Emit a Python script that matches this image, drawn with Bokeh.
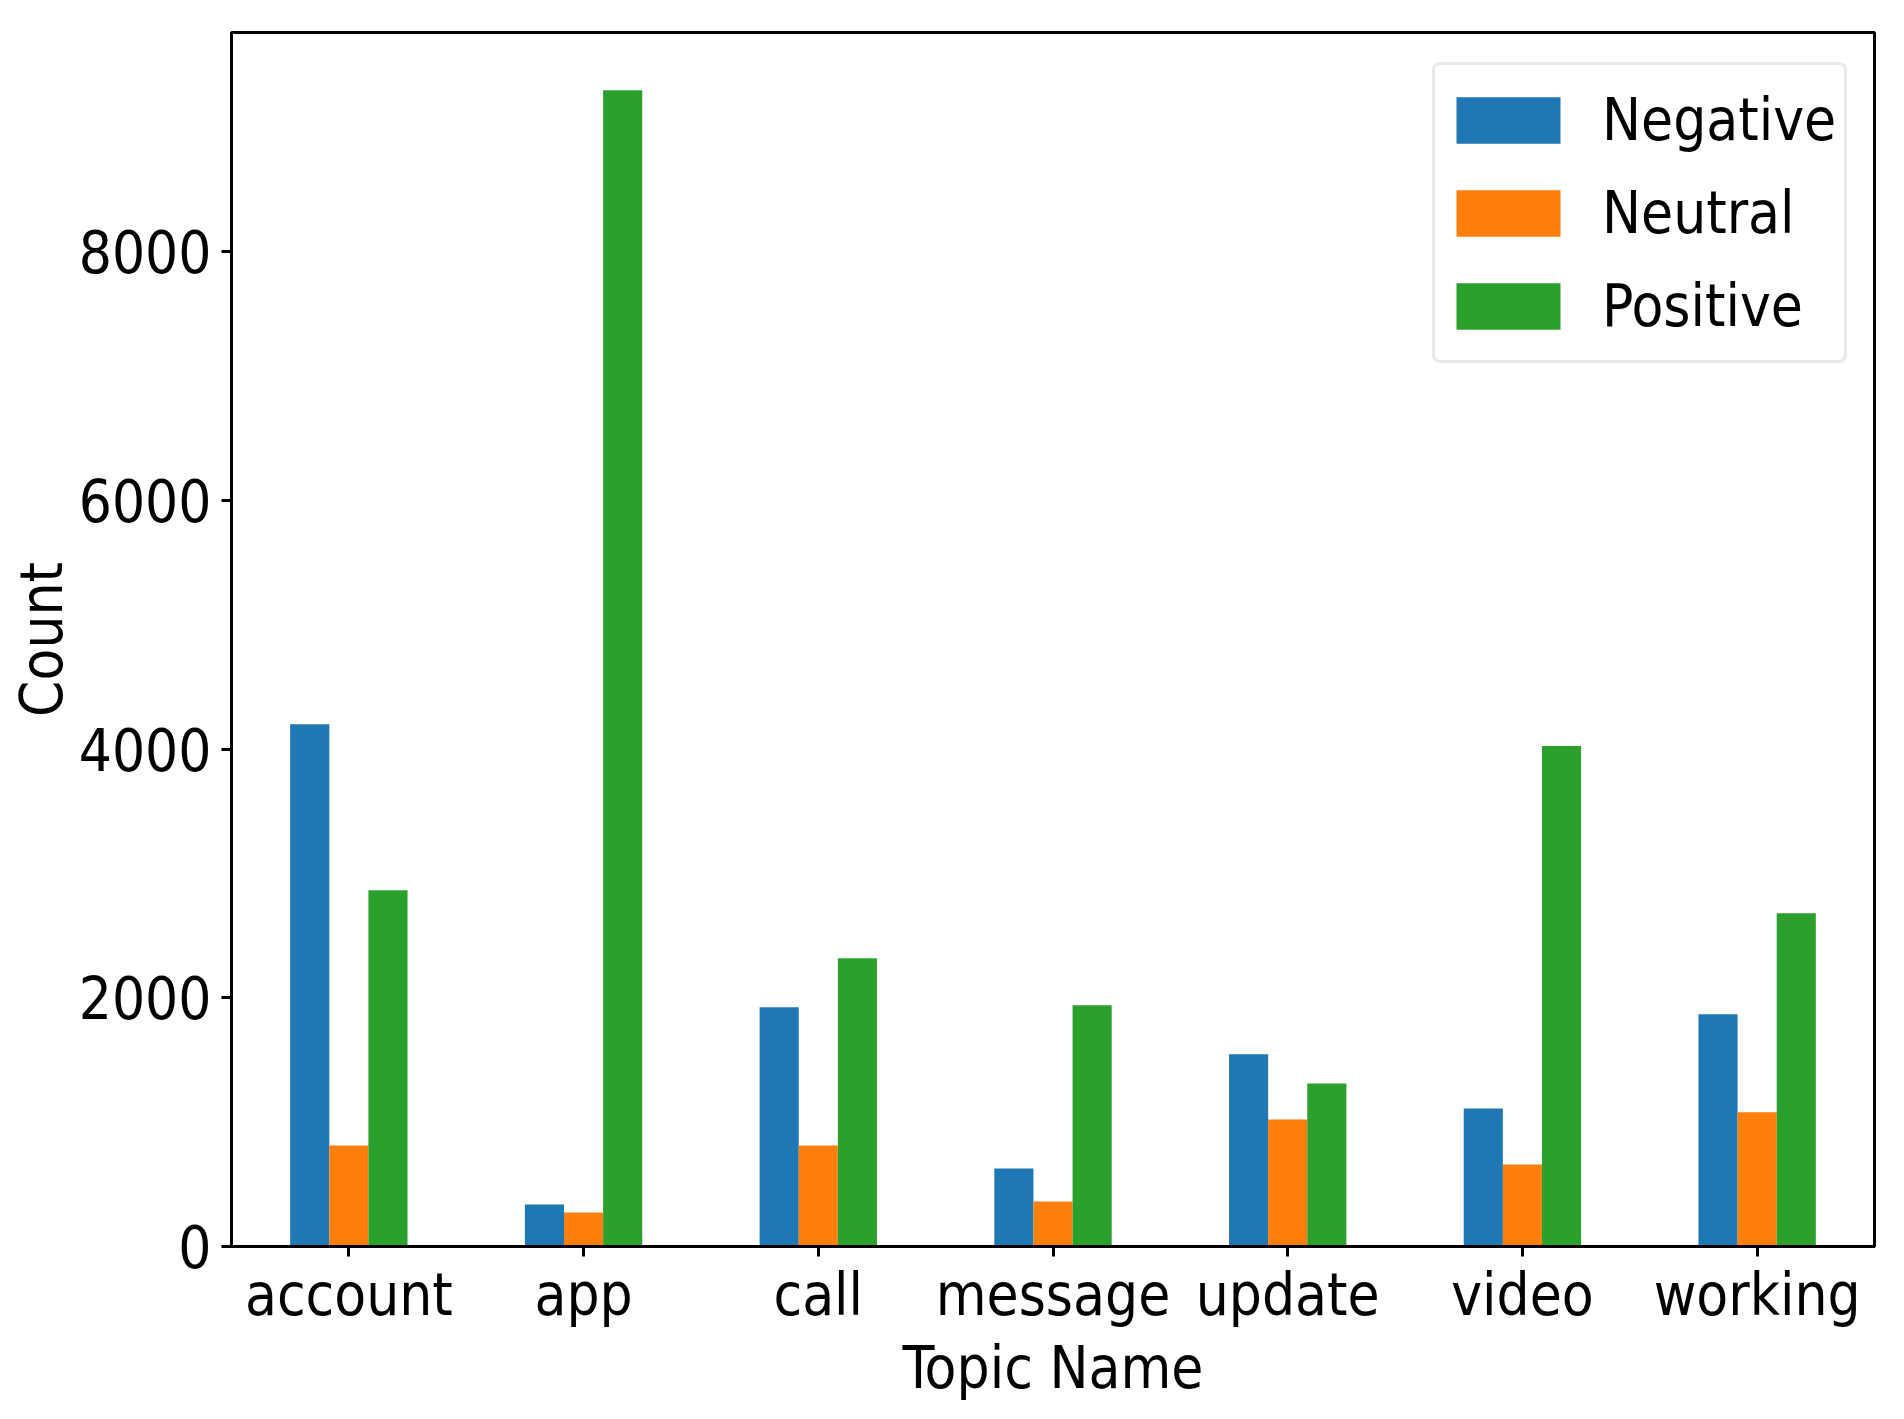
from bokeh.plotting import figure
from bokeh.models import (ColumnDataSource, FactorRange, Range1d, SingleIntervalTicker,
                          Legend, LegendItem)
from bokeh.transform import dodge
from bokeh.embed import file_html
from bokeh.resources import INLINE

topics = ["account", "app", "call", "message", "update", "video", "working"]
negative = [4200, 338, 1924, 628, 1546, 1111, 1868]
neutral = [813, 274, 813, 362, 1022, 660, 1079]
positive = [2866, 9300, 2318, 1940, 1312, 4025, 2681]
series_names = ["Negative", "Neutral", "Positive"]
colors = ["#1f77b4", "#ff7f0e", "#2ca02c"]
y_ticks_interval = 2000

FONT = "DejaVu Sans Condensed, DejaVu Sans"
FS = "58px"

src = ColumnDataSource(dict(topic=topics, Negative=negative, Neutral=neutral, Positive=positive))

y_max = max(max(negative), max(neutral), max(positive)) * 1.05

p = figure(x_range=FactorRange(factors=topics, range_padding=0),
           y_range=Range1d(0, y_max),
           width=1900, height=1416,
           output_backend="svg", toolbar_location=None,
           min_border_left=231, min_border_right=26,
           min_border_top=32, min_border_bottom=170,
           background_fill_color="white", border_fill_color="white")

bar_w = 0.5 / 3
items = []
for i, (name, col) in enumerate(zip(series_names, colors)):
    r = p.vbar(x=dodge("topic", (i - 1) * bar_w, range=p.x_range), top=name,
               width=bar_w, source=src, fill_color=col, line_color=None)
    items.append(LegendItem(label=name, renderers=[r]))

p.xgrid.visible = False
p.ygrid.visible = False
p.outline_line_color = "black"
p.outline_line_width = 3
p.outline_line_alpha = 1

for ax in (p.xaxis[0], p.yaxis[0]):
    ax.axis_line_width = 3
    ax.axis_line_color = "black"
    ax.major_tick_line_width = 3
    ax.major_tick_line_color = "black"
    ax.major_tick_out = 10
    ax.major_tick_in = 0
    ax.minor_tick_line_color = None
    ax.major_label_text_font = FONT
    ax.major_label_text_font_size = FS
    ax.major_label_text_color = "black"
    ax.axis_label_text_font = FONT
    ax.axis_label_text_font_size = FS
    ax.axis_label_text_font_style = "normal"
    ax.axis_label_text_color = "black"

p.yaxis[0].ticker = SingleIntervalTicker(interval=y_ticks_interval, num_minor_ticks=0)
p.yaxis[0].axis_label = "Count"
p.yaxis[0].major_label_standoff = 10
p.yaxis[0].axis_label_standoff = 0
p.xaxis[0].axis_label = "Topic Name"
p.xaxis[0].major_label_standoff = 4
p.xaxis[0].axis_label_standoff = 2

legend = Legend(items=items, location=(1201, 883),
                label_text_font=FONT, label_text_font_size=FS,
                label_text_color="black",
                glyph_width=130, glyph_height=58, label_height=93,
                label_standoff=29, padding=8, spacing=0,
                border_line_color="#d3d3d3", border_line_width=3,
                background_fill_color="white", background_fill_alpha=1)
if "border_radius" in Legend.properties():
    legend.border_radius = 8
p.add_layout(legend)

open("out.html", "w").write(file_html(p, INLINE))
